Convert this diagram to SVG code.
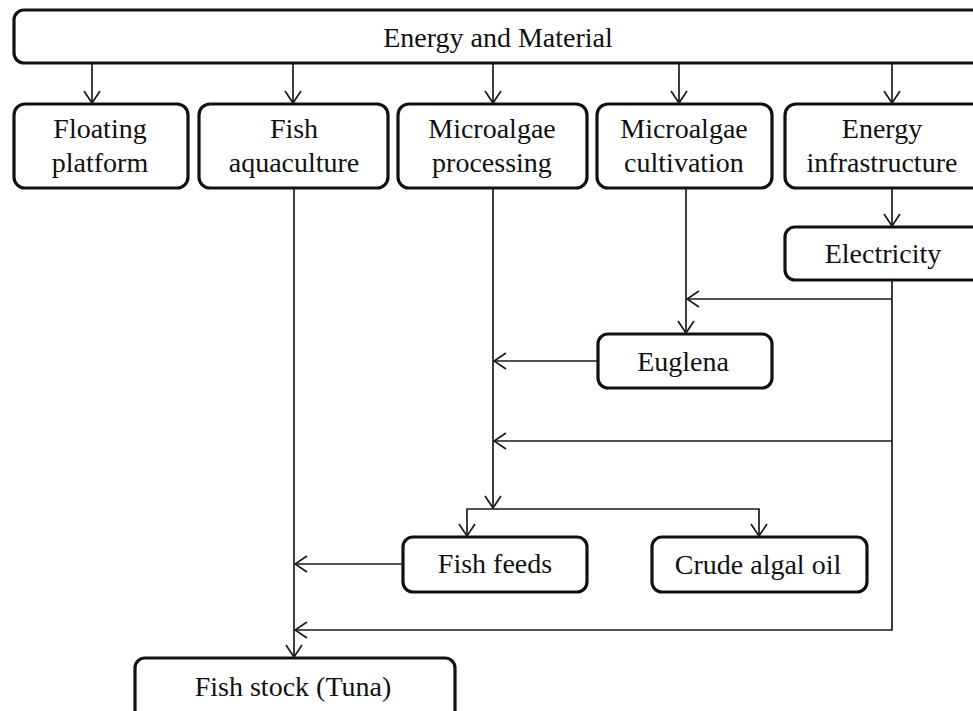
<svg xmlns="http://www.w3.org/2000/svg" width="973" height="711" viewBox="0 0 973 711">
<style>
  .box { fill: #fff; stroke: #111; stroke-width: 3.2; }
  .lbl { font-family: "Liberation Serif", "Times New Roman", serif; font-size: 28px; fill: #111; text-anchor: middle; }
  .con { fill: none; stroke: #1a1a1a; stroke-width: 1.7; marker-end: url(#arr); }
</style>
<defs>
  <marker id="arr" viewBox="0 0 14 18" refX="13" refY="9" markerWidth="14" markerHeight="18" markerUnits="userSpaceOnUse" orient="auto">
    <path d="M1,1 L13,9 L1,17" fill="none" stroke="#1a1a1a" stroke-width="1.7"/>
  </marker>
</defs>
<rect width="973" height="711" fill="#fff"/>

<g id="energy-material">
  <rect class="box" x="14" y="10" width="990" height="53" rx="10"/>
  <text class="lbl" x="498" y="47">Energy and Material</text>
</g>
<g id="floating-platform">
  <rect class="box" x="14" y="104" width="174" height="84" rx="11"/>
  <text class="lbl" x="100" y="138">Floating</text>
  <text class="lbl" x="100" y="172">platform</text>
</g>
<g id="fish-aquaculture">
  <rect class="box" x="199" y="104" width="189" height="84" rx="11"/>
  <text class="lbl" x="294" y="138">Fish</text>
  <text class="lbl" x="294" y="172">aquaculture</text>
</g>
<g id="microalgae-processing">
  <rect class="box" x="398" y="104" width="189" height="84" rx="11"/>
  <text class="lbl" x="492" y="138">Microalgae</text>
  <text class="lbl" x="492" y="172">processing</text>
</g>
<g id="microalgae-cultivation">
  <rect class="box" x="597" y="104" width="175" height="84" rx="11"/>
  <text class="lbl" x="684" y="138">Microalgae</text>
  <text class="lbl" x="684" y="172">cultivation</text>
</g>
<g id="energy-infrastructure">
  <rect class="box" x="785" y="104" width="220" height="84" rx="11"/>
  <text class="lbl" x="882" y="138">Energy</text>
  <text class="lbl" x="882" y="172">infrastructure</text>
</g>
<g id="electricity">
  <rect class="box" x="785" y="227" width="220" height="53" rx="10"/>
  <text class="lbl" x="883" y="263">Electricity</text>
</g>
<g id="euglena">
  <rect class="box" x="598" y="334" width="174" height="54" rx="10"/>
  <text class="lbl" x="683" y="371">Euglena</text>
</g>
<g id="fish-feeds">
  <rect class="box" x="403" y="537" width="184" height="55" rx="10"/>
  <text class="lbl" x="495" y="573">Fish feeds</text>
</g>
<g id="crude-algal-oil">
  <rect class="box" x="652" y="537" width="215" height="55" rx="10"/>
  <text class="lbl" x="758" y="574">Crude algal oil</text>
</g>
<g id="fish-stock">
  <rect class="box" x="135" y="658" width="320" height="70" rx="10"/>
  <text class="lbl" x="293" y="696">Fish stock (Tuna)</text>
</g>

<g id="connectors">
  <path class="con" d="M92,63 V103"/>
  <path class="con" d="M293,63 V103"/>
  <path class="con" d="M493,63 V103"/>
  <path class="con" d="M679,63 V103"/>
  <path class="con" d="M892,63 V103"/>
  <path class="con" d="M294,188 V657"/>
  <path class="con" d="M493,188 V508"/>
  <path class="con" d="M493,509 H467 V536"/>
  <path class="con" d="M493,509 H759 V536"/>
  <path class="con" d="M686,188 V333"/>
  <path class="con" d="M892,188 V226"/>
  <path class="con" d="M892,280 V630 H295"/>
  <path class="con" d="M892,299 H687"/>
  <path class="con" d="M892,441 H494"/>
  <path class="con" d="M598,361 H494"/>
  <path class="con" d="M403,564 H295"/>
</g>
</svg>
